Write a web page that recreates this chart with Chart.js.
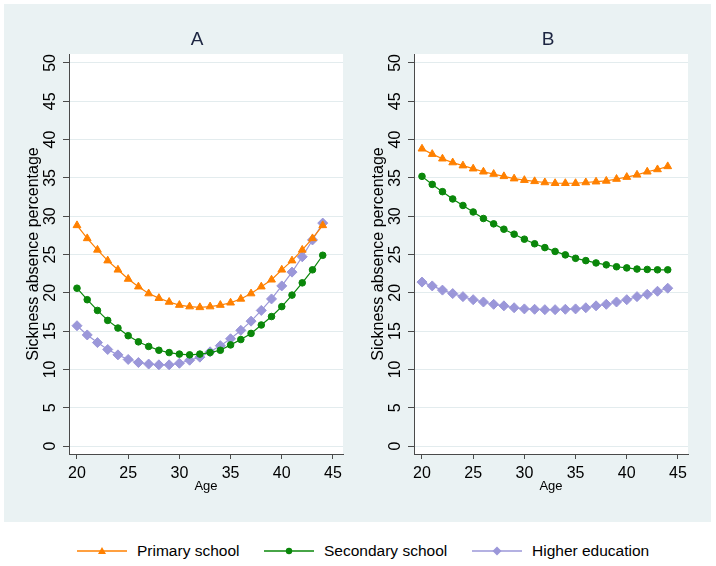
<!DOCTYPE html>
<html>
<head>
<meta charset="utf-8">
<script src="https://cdn.jsdelivr.net/npm/chart.js@4.4.0/dist/chart.umd.min.js"></script>
<style>
  body { margin: 0; background: #fff; width: 716px; height: 566px; position: relative; overflow: hidden;
         font-family: "Liberation Sans", Arial, sans-serif; }
  #panel { position: absolute; left: 4px; top: 4px; width: 707px; height: 518px; background: #eaf2f3; }
  canvas { position: absolute; top: 4px; }
  #legend { position: absolute; left: 0; top: 540px; width: 716px; height: 22px; }
  .item { position: absolute; top: 0; height: 22px; display: flex; align-items: center; font-size: 15.5px; color: #000; }
  .item svg { margin-right: 10px; }
</style>
</head>
<body>
<div id="panel"></div>
<canvas id="chartA" width="345" height="518" style="left:4px"></canvas>
<canvas id="chartB" width="345" height="518" style="left:349px"></canvas>
<div id="legend"></div>
<script>
var ages = [20, 21, 22, 23, 24, 25, 26, 27, 28, 29, 30, 31, 32, 33, 34, 35, 36, 37, 38, 39, 40, 41, 42, 43, 44];

// panel A
var primaryA   = [28.8, 27.1, 25.6, 24.2, 23.0, 21.8, 20.8, 19.9, 19.3, 18.8, 18.4, 18.2, 18.1, 18.2, 18.4, 18.7, 19.2, 19.9, 20.8, 21.7, 23.0, 24.2, 25.6, 27.1, 28.8];
var secondaryA = [20.6, 19.1, 17.7, 16.4, 15.4, 14.4, 13.6, 13.0, 12.5, 12.2, 12.0, 11.9, 12.0, 12.2, 12.5, 13.2, 13.9, 14.7, 15.8, 16.9, 18.2, 19.7, 21.3, 23.0, 24.9];
var higherA    = [15.7, 14.5, 13.5, 12.6, 11.9, 11.3, 10.9, 10.7, 10.6, 10.6, 10.8, 11.2, 11.6, 12.3, 13.1, 14.0, 15.1, 16.3, 17.7, 19.2, 20.9, 22.7, 24.7, 26.9, 29.1];

// panel B
var primaryB   = [38.8, 38.1, 37.5, 37.0, 36.6, 36.2, 35.8, 35.5, 35.2, 34.9, 34.7, 34.55, 34.4, 34.3, 34.3, 34.3, 34.4, 34.5, 34.6, 34.85, 35.1, 35.4, 35.8, 36.1, 36.5];
var secondaryB = [35.2, 34.15, 33.2, 32.25, 31.4, 30.55, 29.7, 29.0, 28.3, 27.65, 27.0, 26.4, 25.9, 25.4, 24.95, 24.5, 24.2, 23.9, 23.65, 23.4, 23.25, 23.1, 23.05, 23.0, 23.0];
var higherB    = [21.4, 20.9, 20.35, 19.9, 19.5, 19.1, 18.8, 18.5, 18.3, 18.05, 17.9, 17.85, 17.8, 17.8, 17.85, 17.9, 18.05, 18.3, 18.5, 18.8, 19.1, 19.5, 19.8, 20.2, 20.6];

var seriesNames = ["Primary school", "Secondary school", "Higher education"];
var yTicks = [0, 5, 10, 15, 20, 25, 30, 35, 40, 45, 50];
var xTicks = [20, 25, 30, 35, 40, 45];

var colors = ["#ff8000", "#0a870a", "#9b97d9"];
var markers = ["triangle", "circle", "rectRot"];
var markerSize = [4.5, 3.3, 5];
var font = '"Liberation Sans", Arial, sans-serif';
var axisColor = "#4a4a4a";

function points(vals) {
  return ages.map(function (a, i) { return { x: a, y: vals[i] }; });
}

// white plot region
var plotBg = {
  id: 'plotBg',
  beforeDraw: function (chart) {
    var a = chart.chartArea, ctx = chart.ctx;
    ctx.save();
    ctx.fillStyle = "#fff";
    ctx.fillRect(a.left, a.top, a.right - a.left, a.bottom - a.top);
    ctx.restore();
  }
};

// vertical y tick labels, Stata style
var yLabels = {
  id: 'yLabels',
  afterDraw: function (chart) {
    var ctx = chart.ctx, sc = chart.scales.y;
    ctx.save();
    ctx.font = '16px ' + font;
    ctx.fillStyle = "#000";
    ctx.textAlign = "center";
    ctx.textBaseline = "alphabetic";
    yTicks.forEach(function (v) {
      ctx.save();
      ctx.translate(chart.chartArea.left - 14, sc.getPixelForValue(v));
      ctx.rotate(-Math.PI / 2);
      ctx.fillText(String(v), 0, 0);
      ctx.restore();
    });
    ctx.restore();
  }
};

var panelTitle = {
  id: 'panelTitle',
  afterDraw: function (chart, args, opts) {
    var ctx = chart.ctx, a = chart.chartArea;
    ctx.save();
    ctx.font = '19px ' + font;
    ctx.fillStyle = "#1c2541";
    ctx.textAlign = "center";
    ctx.textBaseline = "middle";
    ctx.fillText(opts.text, (a.left + a.right) / 2 + opts.shift, 36);
    ctx.restore();
  }
};

function makeChart(id, title, shift, series) {
  var ctx = document.getElementById(id).getContext('2d');
  var datasets = series.map(function (vals, i) {
    return {
      label: seriesNames[i],
      data: points(vals),
      borderColor: colors[i],
      backgroundColor: colors[i],
      borderWidth: 1.2,
      pointStyle: markers[i],
      pointRadius: markerSize[i],
      pointBorderWidth: 1,
      pointBackgroundColor: colors[i],
      pointBorderColor: colors[i],
      tension: 0
    };
  });
  return new Chart(ctx, {
    type: 'line',
    data: { datasets: datasets },
    options: {
      responsive: false,
      animation: false,
      layout: { padding: { left: 0, right: 6, top: 50, bottom: 20 } },
      plugins: {
        legend: { display: false },
        tooltip: { enabled: false },
        panelTitle: { text: title, shift: shift }
      },
      scales: {
        x: {
          type: 'linear',
          min: 19.22, max: 45.98,
          afterBuildTicks: function (s) { s.ticks = xTicks.map(function (v) { return { value: v }; }); },
          afterFit: function (s) { s.height = 48; },
          grid: { drawOnChartArea: false, drawTicks: true, tickLength: 5, tickColor: axisColor },
          border: { display: true, color: axisColor, width: 1 },
          ticks: { color: "#000", font: { family: font, size: 16 }, padding: 5, maxRotation: 0 },
          title: { display: true, text: "Age", color: "#000", font: { family: font, size: 13 }, padding: { top: 0, bottom: 7.5 } }
        },
        y: {
          type: 'linear',
          min: -1.04, max: 51.17,
          afterBuildTicks: function (s) { s.ticks = yTicks.map(function (v) { return { value: v }; }); },
          afterFit: function (s) { s.width = 65; },
          grid: { color: "#e3ecee", lineWidth: 1, drawTicks: true, tickLength: 6, tickColor: axisColor },
          border: { display: true, color: axisColor, width: 1 },
          ticks: { display: false },
          title: { display: true, text: "Sickness absence percentage", color: "#000", font: { family: font, size: 16 }, padding: { top: 20, bottom: 0 } }
        }
      }
    },
    plugins: [plotBg, yLabels, panelTitle]
  });
}

var chartA = makeChart('chartA', 'A', -9, [primaryA, secondaryA, higherA]);
var chartB = makeChart('chartB', 'B', -3, [primaryB, secondaryB, higherB]);

// legend below the panels
var legendLeft = [77, 264, 472];
var legend = document.getElementById('legend');
seriesNames.forEach(function (name, i) {
  var c = colors[i];
  var mark;
  if (i === 0) mark = '<polygon points="25,7 29,14 21,14" fill="' + c + '"/>';
  else if (i === 1) mark = '<circle cx="25" cy="11" r="3.2" fill="' + c + '"/>';
  else mark = '<polygon points="25,6.5 29.5,11 25,15.5 20.5,11" fill="' + c + '"/>';
  var div = document.createElement('div');
  div.className = 'item';
  div.style.left = legendLeft[i] + 'px';
  div.innerHTML = '<svg width="50" height="22"><line x1="0" y1="11" x2="50" y2="11" stroke="' + c + '" stroke-width="1.3"/>' + mark + '</svg><span>' + name + '</span>';
  legend.appendChild(div);
});
</script>
</body>
</html>
